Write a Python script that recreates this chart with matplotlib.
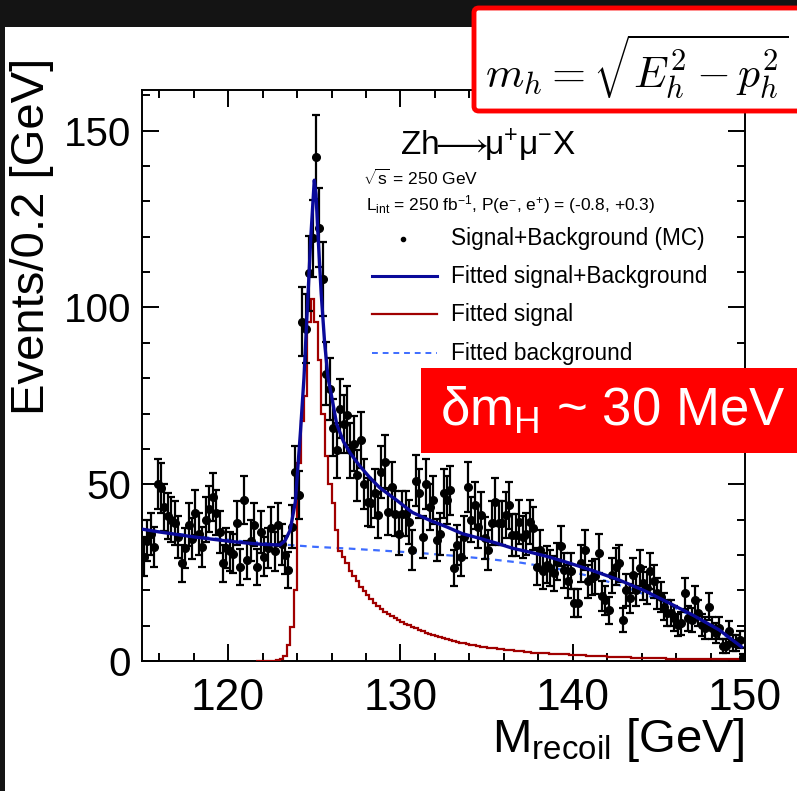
import numpy as np
import matplotlib
matplotlib.use("Agg")
import matplotlib.pyplot as plt
from matplotlib.ticker import MultipleLocator, FixedLocator
from matplotlib.patches import Rectangle, FancyBboxPatch
from matplotlib.lines import Line2D

plt.rcParams['font.family'] = ['Liberation Sans', 'DejaVu Sans']
plt.rcParams['mathtext.fontset'] = 'custom'
plt.rcParams['mathtext.rm'] = 'Liberation Sans'
plt.rcParams['mathtext.it'] = 'Liberation Sans:italic'
plt.rcParams['mathtext.bf'] = 'Liberation Sans:bold'

# ---------------- data ----------------
bin_lo = 115.0
bin_w = 0.2
# MC events per 0.2 GeV bin (bin centres 115.1 ... 149.9)
events = [
    29.5, 34, 36, 32.3, 50, 49, 43.5, 41, 40, 39,
    35, 27.6, 32, 38.6, 34.6, 42, 36, 32.3, 40, 43,
    46.4, 42, 36.5, 27.6, 32, 31, 30.4, 39, 26.6, 45.5,
    28.5, 34, 38.6, 26.6, 36.5, 29.5, 32, 37.5, 31, 38.6,
    33, 30, 25.7, 38, 53.5, 47, 96, 94, 109.6, 119.5,
    142.5, 122.6, 108, 81.3, 77, 66, 59.6, 71.4, 67, 69.5,
    59.6, 61.5, 52.5, 62.5, 50, 45, 44.6, 47.4, 41.3, 53.5,
    56.3, 42.2, 49.2, 41.7, 36, 41.7, 41.7, 39.4, 31.4, 51,
    47.4, 35.1, 50, 43.6, 45.5, 34.2, 36, 47.4, 45.5, 48.3,
    26.2, 32.8, 29.5, 35.1, 49.2, 40, 44, 38, 41.3, 34.7,
    31.4, 39, 45, 39, 39, 41.3, 44, 35.6, 35.6, 39.4,
    35.1, 36, 39.4, 37.5, 26.7, 31.4, 25.4, 27.2, 26.2, 24.8,
    28.1, 32.6, 25.6, 22.5, 25.4, 16.4, 16.4, 27.6, 31.4, 22.5,
    23.4, 23.9, 30.5, 18.4, 17.2, 14.4, 24.3, 26.7, 27.6, 11.6,
    20.1, 17.7, 24.3, 20.1, 26.2, 22, 20.6, 25.4, 22.5, 19.2,
    18.2, 15.4, 13.5, 13.5, 12.1, 10.2, 10.7, 19.2, 12.1, 11.6,
    17.2, 13.5, 10.2, 9.3, 15.4, 9.3, 7.9, 9.3, 4.2, 4.2,
    8.4, 5.1, 5.1, 6, 1,
]

# fitted signal histogram, 0.2 GeV bins starting at 121.6 GeV
sig_lo = 121.6
signal = [
    0, 0, 0, 0, 0, 0, 0.2, 0.5, 1.5, 4.5,
    9.7, 20, 56, 68, 75, 96, 102.5, 96, 85, 70,
    58, 50, 44.6, 37, 31, 29.5, 27.6, 25.5, 24, 22.5,
    21, 19.8, 18.6, 17.5, 16.5, 15.6, 14.8, 14, 13.3, 12.7,
    12.1, 11.6, 11.1, 10.6, 10.1, 9.6, 9.2, 8.8, 8.4, 8.0,
    7.6, 7.3, 7.0, 6.7, 6.4, 6.1, 5.9, 5.6, 5.4, 5.2,
    5.0, 4.8, 4.6, 4.4, 4.3, 4.1, 4.0, 3.8, 3.7, 3.6,
    3.4, 3.3, 3.2, 3.1, 3.0, 2.9, 2.8, 2.7, 2.6, 2.5,
    2.4, 2.35, 2.3, 2.2, 2.15, 2.1, 2.05, 2.0, 1.95, 1.9,
    1.85, 1.8, 1.75, 1.7, 1.65, 1.6, 1.55, 1.5, 1.45, 1.4,
    1.35, 1.3, 1.25, 1.2, 1.15, 1.1, 1.05, 1.0, 1.0, 0.95,
    0.95, 0.9, 0.9, 0.85, 0.85, 0.8, 0.8, 0.75, 0.75, 0.7,
    0.7, 0.7, 0.65, 0.65, 0.65, 0.6, 0.6, 0.6, 0.6, 0.55,
    0.55, 0.55, 0.5, 0.5, 0.5, 0.5, 0.5, 0.5, 0.5, 0.5,
    0.5, 0.5,
]

# fitted signal + background
sb_x = [115, 116, 117, 118, 119, 120, 121, 122, 123, 123.3, 123.6, 123.9,
        124.2, 124.4, 124.6, 124.8, 125.0, 125.1, 125.2, 125.4, 125.6, 125.8,
        126.0, 126.3, 126.7, 127.1, 127.6, 128.2, 128.8, 129.8, 130.7, 131.7,
        132.7, 133.6, 134.6, 135.6, 136.5, 137.5, 138.5, 139.8, 141.2, 142.7,
        144.2, 145.6, 147.0, 148.5, 149.8]
sb_y = [37.3, 36.5, 35.8, 35.1, 34.5, 33.9, 33.4, 33.0, 32.8, 34.0, 37.0, 45.0,
        65.0, 80.0, 100.0, 120.0, 136.0, 132.0, 122.0, 104.0, 90.0, 80.0,
        75.0, 67.0, 62.0, 58.7, 55.4, 52.0, 49.0, 45.4, 42.0, 39.8,
        37.9, 36.0, 34.7, 33.3, 31.9, 30.8, 29.6, 27.7, 25.5, 22.9,
        19.8, 16.4, 12.9, 8.8, 4.0]

# fitted background
bg_x = [115, 117, 119, 121, 123, 125, 127, 129, 131, 133, 135, 137, 139,
        141, 143, 145, 147, 148.5, 150]
bg_y = [37.3, 36.0, 34.8, 33.8, 33.0, 32.3, 31.8, 31.2, 30.6, 29.8, 28.9,
        27.8, 26.2, 24.0, 21.0, 17.3, 12.5, 8.3, 3.5]

x_ticks = [120, 130, 140, 150]
y_ticks = [0, 50, 100, 150]

# ---------------- figure ----------------
W, H = 797, 791
fig = plt.figure(figsize=(W / 100, H / 100), dpi=100, facecolor='#141414')

def fx(px):
    return px / W

def fy(py):
    return 1 - py / H

# white panel
fig.patches.append(Rectangle((fx(5), 0), 1 - fx(5), fy(27), transform=fig.transFigure,
                             facecolor='white', edgecolor='none', zorder=-5))

L, R, T, B = 142, 745, 90, 661
ax = fig.add_axes([fx(L), fy(B), (R - L) / W, (B - T) / H])
ax.set_facecolor('white')
ax.set_zorder(1)

xc = bin_lo + bin_w * (np.arange(len(events)) + 0.5)
ev = np.array(events)

# background (dashed)
ax.plot(bg_x, bg_y, color='#3d6cff', lw=1.6, ls=(0, (3, 2.5)), zorder=2)

# signal histogram
sig_edges = sig_lo + bin_w * np.arange(len(signal) + 1)
sig_vals = np.array(signal)
ax.stairs(sig_vals, sig_edges, color='#a00000', lw=1.6, zorder=3, baseline=None)

# data
ax.errorbar(xc, ev, yerr=np.sqrt(ev), fmt='o', color='black', ms=5.5,
             elinewidth=1.6, capsize=2.6, capthick=1.6, zorder=4)

# fitted s+b
ax.plot(sb_x, sb_y, color='#0a0a9a', lw=2.4, zorder=5)

ax.set_xlim(115, 150)
ax.set_ylim(0, 161.5)
ax.xaxis.set_major_locator(FixedLocator(x_ticks))
ax.yaxis.set_major_locator(FixedLocator(y_ticks))
ax.xaxis.set_minor_locator(MultipleLocator(2))
ax.yaxis.set_minor_locator(MultipleLocator(10))
ax.tick_params(which='both', direction='in', top=True, right=True, width=1.4,
               colors='black')
ax.tick_params(axis='x', labelsize=32)
ax.tick_params(axis='y', labelsize=29)
ax.tick_params(which='major', length=12.5)
ax.tick_params(which='minor', length=6)
ax.tick_params(axis='x', which='major', pad=12)
ax.tick_params(axis='y', which='major', pad=8)
for s in ax.spines.values():
    s.set_linewidth(1.4)

# axis titles
fig.text(fx(745), fy(752), r'M$_{\mathrm{recoil}}$ [GeV]', fontsize=34,
         ha='right', va='baseline')
fig.text(fx(32), fy(58), 'Events/0.2 [GeV]', fontsize=34, rotation=90,
         ha='center', va='top')

# legend block
fig.text(fx(400), fy(155), r'Zh$\!\!\longrightarrow\!\!$μ$^{+}$μ$^{-}$X',
         fontsize=24, ha='left', va='baseline')
fig.text(fx(363), fy(185), r'$\sqrt{\mathrm{s}}$ = 250 GeV', fontsize=12.5,
         ha='left', va='baseline')
fig.text(fx(366), fy(210),
         r'L$_{\mathrm{int}}$ = 250 fb$^{-1}$, P(e$^{-}$, e$^{+}$) = (-0.8, +0.3)',
         fontsize=12.5, ha='left', va='baseline')

leg_items = [('Signal+Background (MC)', 239), ('Fitted signal+Background', 276),
             ('Fitted signal', 314), ('Fitted background', 353)]
for label, yy in leg_items:
    fig.text(fx(451), fy(yy), label, fontsize=16.3, ha='left', va='center')
fig.lines.append(Line2D([fx(403)], [fy(239)], marker='o', ms=3, color='black',
                        transform=fig.transFigure))
fig.lines.append(Line2D([fx(372), fx(437)], [fy(276)] * 2, color='#0a0a9a', lw=2.2,
                        transform=fig.transFigure))
fig.lines.append(Line2D([fx(372), fx(437)], [fy(314)] * 2, color='#a00000', lw=1.6,
                        transform=fig.transFigure))
fig.lines.append(Line2D([fx(372), fx(437)], [fy(353)] * 2, color='#3d6cff', lw=1.4,
                        ls=(0, (3, 2.5)), transform=fig.transFigure))

# red formula box
fig.patches.append(FancyBboxPatch((fx(474), fy(111)), fx(360), (111 - 8) / H,
                                  boxstyle='round,pad=0,rounding_size=0.006',
                                  transform=fig.transFigure, facecolor='white',
                                  edgecolor='#ff0000', lw=3.5, zorder=10))
fig.text(fx(485), fy(88), r'$m_h = \sqrt{E_h^2 - p_h^2}$', fontsize=31.5,
         math_fontfamily='cm', ha='left', va='baseline', zorder=11)

# red resolution box
fig.patches.append(Rectangle((fx(421), fy(453)), fx(400), (453 - 368) / H,
                             transform=fig.transFigure, facecolor='#ff0000',
                             edgecolor='none', zorder=10))
fig.text(fx(440), fy(411), r'$\mathrm{\delta m_H}$ ~ 30 MeV', fontsize=38,
         color='white', ha='left', va='center', zorder=11)

fig.savefig('out.png', dpi=100, facecolor=fig.get_facecolor())
